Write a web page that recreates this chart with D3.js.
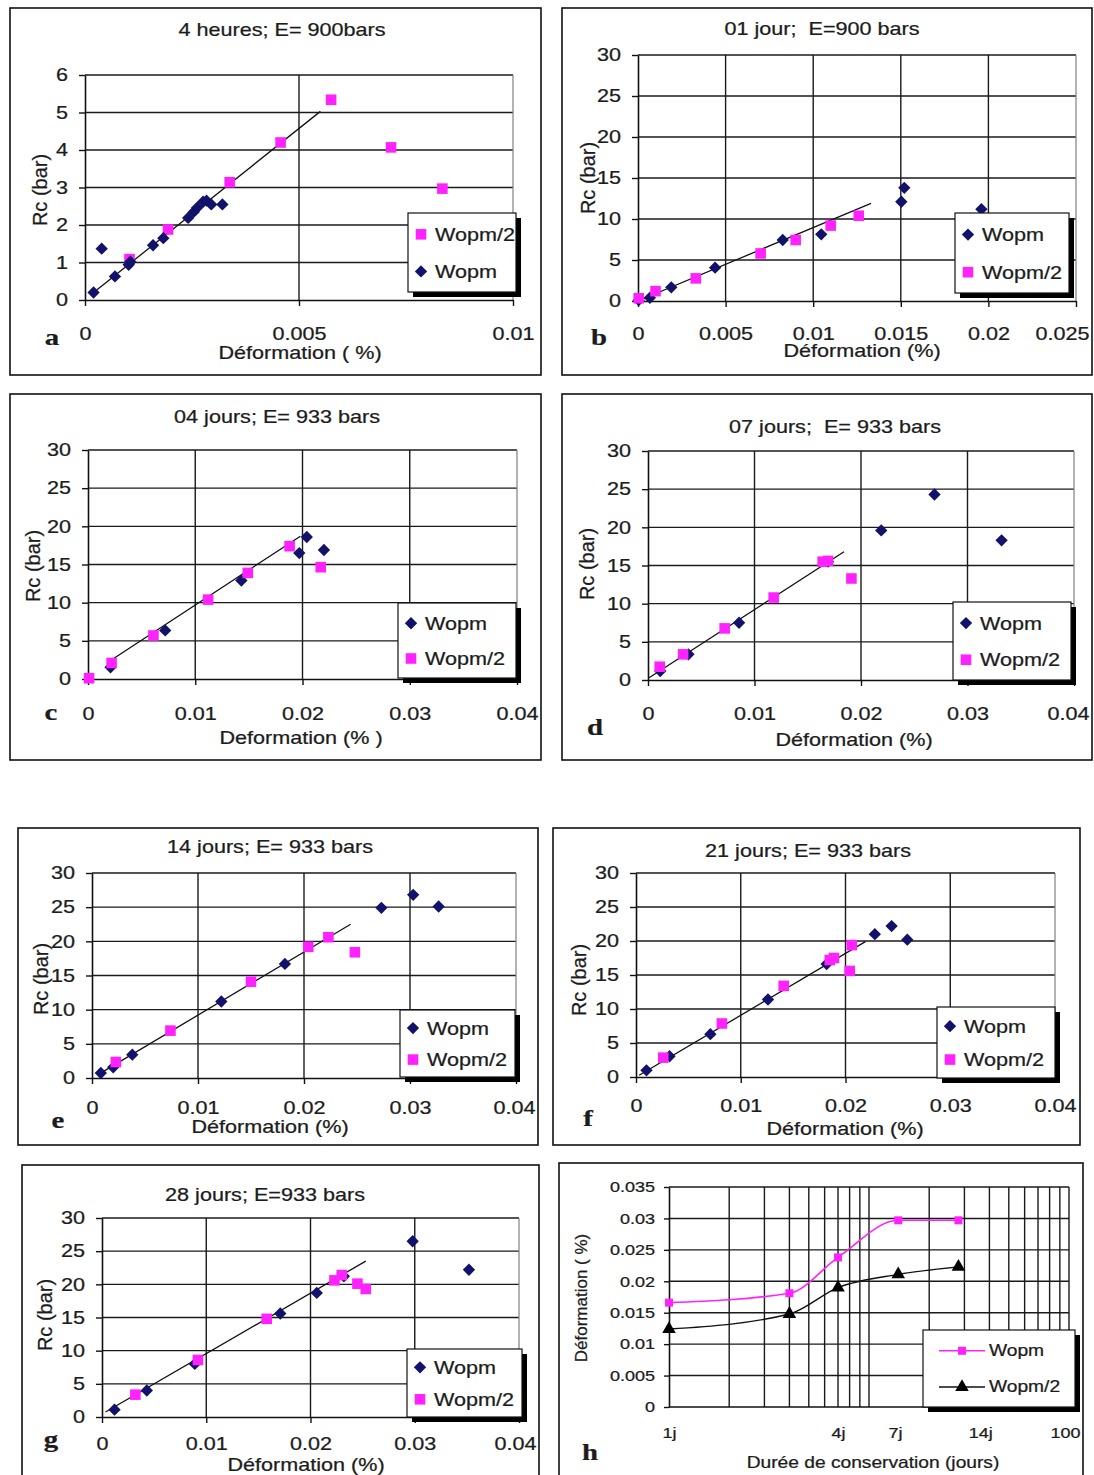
<!DOCTYPE html>
<html><head><meta charset="utf-8">
<script src="https://cdn.jsdelivr.net/npm/d3@7"></script>
<style>
body{margin:0;background:#fff}
svg{display:block;background:#fff}
text{font-family:"Liberation Sans",Arial,sans-serif;fill:#1c1c1c;white-space:pre;stroke:#1c1c1c;stroke-width:0.25px}
.let{font-family:"Liberation Serif","Times New Roman",serif;font-weight:bold}
</style>
</head><body>
<svg id="c" width="1094" height="1475"></svg>
<script>
// ---------------- DATA ----------------
// panel a : 4 heures
const aWopm  = [[0.00020,0.20],[0.00039,1.37],[0.00070,0.63],[0.00102,0.94],[0.00106,1.02],[0.00159,1.46],[0.00183,1.65],[0.00241,2.19],[0.00254,2.35],[0.00262,2.46],[0.00276,2.62],[0.00284,2.65],[0.00295,2.55],[0.00321,2.55]];
const aWopm2 = [[0.00104,1.09],[0.00194,1.88],[0.00338,3.14],[0.00457,4.20],[0.00575,5.34],[0.00715,4.07],[0.00835,2.97]];
const aTrend = [[0.0002,0.2],[0.0055,5.03]];
// panel b : 01 jour
const bWopm  = [[0.00004,0.10],[0.00068,0.40],[0.0019,1.67],[0.0044,4.07],[0.00826,7.44],[0.01046,8.13],[0.01503,12.1],[0.0152,13.8],[0.0196,11.2]];
const bWopm2 = [[0.00004,0.33],[0.0010,1.20],[0.0033,2.76],[0.0070,5.80],[0.0090,7.44],[0.0110,9.20],[0.0126,10.4]];
const bTrend = [[0,0],[0.0133,11.9]];
// panel c : 04 jours
const cWopm  = [[0.0021,1.53],[0.0072,6.37],[0.0143,12.9],[0.0197,16.5],[0.0204,18.6],[0.0220,16.9]];
const cWopm2 = [[0.0001,0.10],[0.0022,2.10],[0.0061,5.70],[0.0112,10.4],[0.0149,13.9],[0.0188,17.4],[0.0217,14.65]];
const cTrend = [[0.00196,2.3],[0.0198,18.7]];
// panel d : 07 jours
const dWopm  = [[0.00115,1.18],[0.0038,3.36],[0.00855,7.5],[0.0169,15.5],[0.0219,19.6],[0.0269,24.3],[0.0332,18.3]];
const dWopm2 = [[0.0011,1.74],[0.0033,3.36],[0.0072,6.76],[0.0118,10.8],[0.0164,15.5],[0.0169,15.6],[0.0191,13.3]];
const dTrend = [[0.0001,0.3],[0.0184,16.8]];
// panel e : 14 jours
const eWopm  = [[0.00083,0.73],[0.0020,1.56],[0.0038,3.41],[0.0122,11.2],[0.0182,16.7],[0.0273,24.9],[0.0303,26.8],[0.0327,25.1]];
const eWopm2 = [[0.00225,2.34],[0.0074,6.93],[0.0150,14.1],[0.0204,19.2],[0.0223,20.6],[0.0248,18.4]];
const eTrend = [[0.00093,0.83],[0.0244,22.5]];
// panel f : 21 jours
const fWopm  = [[0.0010,0.98],[0.0032,3.05],[0.0071,6.3],[0.0126,11.4],[0.0182,16.6],[0.0228,21.0],[0.0244,22.2],[0.0259,20.2]];
const fWopm2 = [[0.0026,2.85],[0.0082,7.87],[0.0141,13.4],[0.0185,17.2],[0.0189,17.5],[0.0204,15.6],[0.0206,19.4]];
const fTrend = [[0.0003,0.25],[0.0219,19.9]];
// panel g : 28 jours
const gWopm  = [[0.0012,1.1],[0.0043,4.0],[0.0089,8.0],[0.0171,15.6],[0.0206,18.7],[0.0232,21.2],[0.0298,26.5],[0.0352,22.2]];
const gWopm2 = [[0.0032,3.37],[0.0092,8.6],[0.0158,14.8],[0.0223,20.6],[0.0230,21.4],[0.0245,20.1],[0.0253,19.3]];
const gTrend = [[0.00034,0.75],[0.0253,23.5]];
// panel h : deformation vs duree
const hDays  = [1,4,7,14,28];
const hWopm  = [0.0166,0.0181,0.0238,0.0297,0.0297];
const hWopm2 = [0.0124,0.0148,0.0190,0.0211,0.0223];
const hXTickVals   = [1,7,13.5,36,100];
const hXTickLabels = ["1j","4j","7j","14j","100"];
const hYTicks = [0,0.005,0.01,0.015,0.02,0.025,0.03,0.035];

// ticks
const yTicksA = [0,1,2,3,4,5,6];
const xTicksA = [0,0.005,0.01];
const yTicks30 = [0,5,10,15,20,25,30];
const xTicksB = [0,0.005,0.01,0.015,0.02,0.025];
const xTicks04 = [0,0.01,0.02,0.03,0.04];

const titles = {
  a:"4 heures; E= 900bars", b:"01 jour;  E=900 bars", c:"04 jours; E= 933 bars",
  d:"07 jours;  E= 933 bars", e:"14 jours; E= 933 bars", f:"21 jours; E= 933 bars",
  g:"28 jours; E=933 bars"
};
const xLabels = {
  a:"Déformation ( %)", b:"Déformation (%)", c:"Deformation (% )", d:"Déformation (%)",
  e:"Déformation (%)", f:"Déformation (%)", g:"Déformation (%)", h:"Durée de conservation (jours)"
};

// ---------------- LAYOUT ----------------
const layout = {
 a:{box:[10,8,541,375],    plot:[85,75,513,300],    title:[282,36],  xlab:[300,359],  ylab:[40,190],  letter:[52,345],  legend:[408,213,516,292],  xtb:40},
 b:{box:[562,8,1092,375],  plot:[638,55,1076,301],  title:[822,35],  xlab:[862,357],  ylab:[588,178], letter:[599,345], legend:[955,213,1069,293],  xtb:39},
 c:{box:[10,394,541,760],  plot:[88,450,517,679],   title:[277,423], xlab:[301,744],  ylab:[33,566],  letter:[51,720],  legend:[398,603,516,678],  xtb:41},
 d:{box:[562,394,1092,760],plot:[648,451,1074,680], title:[835,433], xlab:[854,746],  ylab:[587,564], letter:[595,735], legend:[953,602,1071,680],  xtb:40},
 e:{box:[18,828,538,1145], plot:[92,873,516,1078],  title:[270,853], xlab:[270,1133], ylab:[41,979],  letter:[58,1128], legend:[400,1010,515,1077], xtb:36},
 f:{box:[553,828,1080,1145],plot:[636,873,1055,1077],title:[808,857],xlab:[845,1135], ylab:[579,980], letter:[588,1126],legend:[937,1007,1055,1078], xtb:35},
 g:{box:[22,1165,539,1495],plot:[102,1218,519,1417],title:[265,1201],xlab:[306,1471], ylab:[45,1315], letter:[51,1447], legend:[407,1349,522,1417], xtb:33},
 h:{box:[559,1163,1083,1495],plot:[669,1187,1069,1407],xlab:[873,1468],ylab:[581,1298],letter:[590,1460],legend:[923,1330,1075,1407],xtb:31}
};
const SX = 1.2;
const NAVY = "#12126a", PINK = "#ff22ff";
const svg = d3.select("#c");

function txt(g, x, y, str, o = {}) {
  const sx = o.sx ?? SX;
  const tr = `translate(${x},${y})` + (o.rot ? " rotate(-90)" : ` scale(${sx},1)`);
  const t = g.append("text").attr("transform", tr)
    .attr("text-anchor", o.anchor || "middle")
    .style("font-size", (o.size || 18) + "px").text(str);
  if (o.rot) t.attr("dy", "0.35em");
  if (o.cls) t.attr("class", o.cls);
  return t;
}
const fmt = d => d === 0 ? "0" : String(+d.toPrecision(6));

function diamond(sel, data, x, y) {
  sel.selectAll(null).data(data).join("path")
    .attr("d", d3.symbol(d3.symbolSquare, 76)())
    .attr("transform", d => `translate(${x(d[0])},${y(d[1])}) rotate(45)`)
    .attr("fill", NAVY);
}
function square(sel, data, x, y) {
  sel.selectAll(null).data(data).join("path")
    .attr("d", d3.symbol(d3.symbolSquare, 112)())
    .attr("transform", d => `translate(${x(d[0])},${y(d[1])})`)
    .attr("fill", PINK);
}

function frame(L) {
  const [bx0, by0, bx1, by1] = L.box;
  svg.append("rect").attr("x", bx0).attr("y", by0).attr("width", bx1 - bx0).attr("height", by1 - by0)
    .attr("fill", "none").attr("stroke", "#111").attr("stroke-width", 1.6);
}
function legendBox(g, L) {
  const [lx0, ly0, lx1, ly1] = L.legend;
  g.append("rect").attr("x", lx0 + 5).attr("y", ly0 + 5).attr("width", lx1 - lx0).attr("height", ly1 - ly0).attr("fill", "#000");
  g.append("rect").attr("x", lx0).attr("y", ly0).attr("width", lx1 - lx0).attr("height", ly1 - ly0)
    .attr("fill", "#fff").attr("stroke", "#111").attr("stroke-width", 1.2);
  const h = ly1 - ly0;
  return [ly0 + 0.27 * h, ly0 + 0.74 * h];
}
function styleAxis(ax, size) {
  ax.attr("font-size", null).attr("font-family", null);
  ax.select(".domain").attr("stroke", "#111").attr("stroke-width", 1.6);
  ax.selectAll(".tick line").attr("stroke", "#111").attr("stroke-width", 1.4);
  ax.selectAll("text").style("font-size", size + "px").attr("fill", "#1c1c1c");
}
// keep the last x tick label inside its panel frame
function fitXTicks(xa, x, boxRight) {
  xa.selectAll(".tick text").each(function (d) {
    const w = this.getComputedTextLength() * SX;
    const cx = x(d);
    if (cx + w / 2 > boxRight - 3) {
      d3.select(this).attr("text-anchor", "end").attr("x", (boxRight - 3 - cx) / SX);
    }
  });
}

function scatter(key, xT, yT, wopm, wopm2, trend, order) {
  const L = layout[key];
  frame(L);
  const g = svg.append("g");
  const [px0, py0, px1, py1] = L.plot;
  const x = d3.scaleLinear().domain([xT[0], xT[xT.length - 1]]).range([px0, px1]);
  const y = d3.scaleLinear().domain([yT[0], yT[yT.length - 1]]).range([py1, py0]);
  // grid
  g.append("g").selectAll("line").data(yT.slice(1)).join("line")
    .attr("x1", px0).attr("x2", px1).attr("y1", d => y(d)).attr("y2", d => y(d))
    .attr("stroke", "#1a1a1a").attr("stroke-width", 1.4);
  g.append("g").selectAll("line").data(xT.slice(1, -1)).join("line")
    .attr("y1", py0).attr("y2", py1).attr("x1", d => x(d)).attr("x2", d => x(d))
    .attr("stroke", "#1a1a1a").attr("stroke-width", 1.4);
  g.append("line").attr("x1", px1).attr("x2", px1).attr("y1", py0).attr("y2", py1)
    .attr("stroke", "#808080").attr("stroke-width", 1.2);
  // axes
  const ya = g.append("g").attr("transform", `translate(${px0},0)`)
    .call(d3.axisLeft(y).tickValues(yT).tickFormat(fmt).tickSize(6).tickSizeOuter(0));
  styleAxis(ya, 18);
  ya.selectAll("text").attr("x", -17 / SX).attr("transform", `scale(${SX},1)`);
  const xa = g.append("g").attr("transform", `translate(0,${py1})`)
    .call(d3.axisBottom(x).tickValues(xT).tickFormat(fmt).tickSize(6).tickSizeOuter(0));
  styleAxis(xa, 18);
  xa.selectAll("text").attr("dy", "0").attr("y", L.xtb).attr("transform", `scale(${SX},1)`);
  fitXTicks(xa, x, L.box[2]);
  // trend
  g.append("line").attr("x1", x(trend[0][0])).attr("y1", y(trend[0][1]))
    .attr("x2", x(trend[1][0])).attr("y2", y(trend[1][1]))
    .attr("stroke", "#111").attr("stroke-width", 1.3);
  // series in legend order
  const series = { w: { data: wopm, name: "Wopm", f: diamond }, w2: { data: wopm2, name: "Wopm/2", f: square } };
  order.forEach(k => series[k].f(g.append("g"), series[k].data, x, y));
  // legend
  const ys = legendBox(g, L);
  const lx = L.legend[0];
  order.forEach((k, i) => {
    const s = series[k];
    const one = d3.scaleLinear().domain([0, 1]).range([lx + 13, lx + 14]);
    const yy = d3.scaleLinear().domain([0, 1]).range([ys[i], ys[i] + 1]);
    s.f(g.append("g"), [[0, 0]], one, yy);
    txt(g, lx + 27, ys[i] + 6.5, s.name, { anchor: "start", size: 18 });
  });
  // texts
  txt(svg, L.title[0], L.title[1], titles[key], { size: 18 });
  txt(svg, L.xlab[0], L.xlab[1], xLabels[key], { size: 18 });
  txt(svg, L.ylab[0], L.ylab[1], "Rc (bar)", { size: 20, rot: true });
  txt(svg, L.letter[0], L.letter[1], key, { size: 24, cls: "let" });
}

scatter("a", xTicksA, yTicksA, aWopm, aWopm2, aTrend, ["w2", "w"]);
scatter("b", xTicksB, yTicks30, bWopm, bWopm2, bTrend, ["w", "w2"]);
scatter("c", xTicks04, yTicks30, cWopm, cWopm2, cTrend, ["w", "w2"]);
scatter("d", xTicks04, yTicks30, dWopm, dWopm2, dTrend, ["w", "w2"]);
scatter("e", xTicks04, yTicks30, eWopm, eWopm2, eTrend, ["w", "w2"]);
scatter("f", xTicks04, yTicks30, fWopm, fWopm2, fTrend, ["w", "w2"]);
scatter("g", xTicks04, yTicks30, gWopm, gWopm2, gTrend, ["w", "w2"]);

// ---------------- panel h ----------------
(function () {
  const L = layout.h;
  frame(L);
  const g = svg.append("g");
  const [px0, py0, px1, py1] = L.plot;
  const x = d3.scaleLog().domain([1, 100]).range([px0, px1]);
  const y = d3.scaleLinear().domain([0, 0.035]).range([py1, py0]);
  g.append("g").selectAll("line").data(hYTicks.slice(1)).join("line")
    .attr("x1", px0).attr("x2", px1).attr("y1", d => y(d)).attr("y2", d => y(d))
    .attr("stroke", "#1a1a1a").attr("stroke-width", 1.4);
  g.append("g").selectAll("line").data(x.ticks().filter(d => d > 1)).join("line")
    .attr("y1", py0).attr("y2", py1).attr("x1", d => x(d)).attr("x2", d => x(d))
    .attr("stroke", "#1a1a1a").attr("stroke-width", 1.4);
  const ya = g.append("g").attr("transform", `translate(${px0},0)`)
    .call(d3.axisLeft(y).tickValues(hYTicks).tickFormat(fmt).tickSize(5).tickSizeOuter(0));
  styleAxis(ya, 15);
  ya.selectAll("text").attr("x", -14 / SX).attr("transform", `scale(${SX},1)`);
  const xa = g.append("g").attr("transform", `translate(0,${py1})`)
    .call(d3.axisBottom(x).tickValues(hXTickVals).tickFormat((d, i) => hXTickLabels[i]).tickSize(0).tickSizeOuter(0));
  styleAxis(xa, 15);
  xa.select(".domain").remove();
  g.append("line").attr("x1", px0).attr("x2", px1).attr("y1", py1).attr("y2", py1).attr("stroke", "#111").attr("stroke-width", 1.6);
  xa.selectAll("text").attr("dy", "0").attr("y", L.xtb).attr("transform", `scale(${SX},1)`);
  fitXTicks(xa, x, L.box[2]);

  const pts1 = hDays.map((d, i) => [d, hWopm[i]]);
  const pts2 = hDays.map((d, i) => [d, hWopm2[i]]);
  const line = d3.line().x(d => x(d[0])).y(d => y(d[1])).curve(d3.curveMonotoneX);
  g.append("path").attr("d", line(pts1)).attr("fill", "none").attr("stroke", PINK).attr("stroke-width", 1.6);
  g.append("path").attr("d", line(pts2)).attr("fill", "none").attr("stroke", "#111").attr("stroke-width", 1.4);
  const sq = d3.symbol(d3.symbolSquare, 64)();
  const tri = d3.symbol(d3.symbolTriangle, 80)();
  g.append("g").selectAll("path").data(pts1).join("path").attr("d", sq)
    .attr("transform", d => `translate(${x(d[0])},${y(d[1])})`).attr("fill", PINK);
  g.append("g").selectAll("path").data(pts2).join("path").attr("d", tri)
    .attr("transform", d => `translate(${x(d[0])},${y(d[1])})`).attr("fill", "#000");

  const ys = legendBox(g, L);
  const lx = L.legend[0];
  const items = [{ name: "Wopm", c: PINK, m: sq, w: 1.6 }, { name: "Wopm/2", c: "#111", m: tri, w: 1.4 }];
  items.forEach((it, i) => {
    g.append("line").attr("x1", lx + 16).attr("x2", lx + 62).attr("y1", ys[i]).attr("y2", ys[i])
      .attr("stroke", it.c).attr("stroke-width", it.w);
    g.append("path").attr("d", it.m).attr("transform", `translate(${lx + 39},${ys[i]})`).attr("fill", it.c === PINK ? PINK : "#000");
    txt(g, lx + 66, ys[i] + 5.5, it.name, { anchor: "start", size: 16 });
  });
  txt(svg, L.xlab[0], L.xlab[1], xLabels.h, { size: 16 });
  txt(svg, L.ylab[0], L.ylab[1], "Déformation ( %)", { size: 17, rot: true });
  txt(svg, L.letter[0], L.letter[1], "h", { size: 24, cls: "let" });
})();
</script>
</body></html>
